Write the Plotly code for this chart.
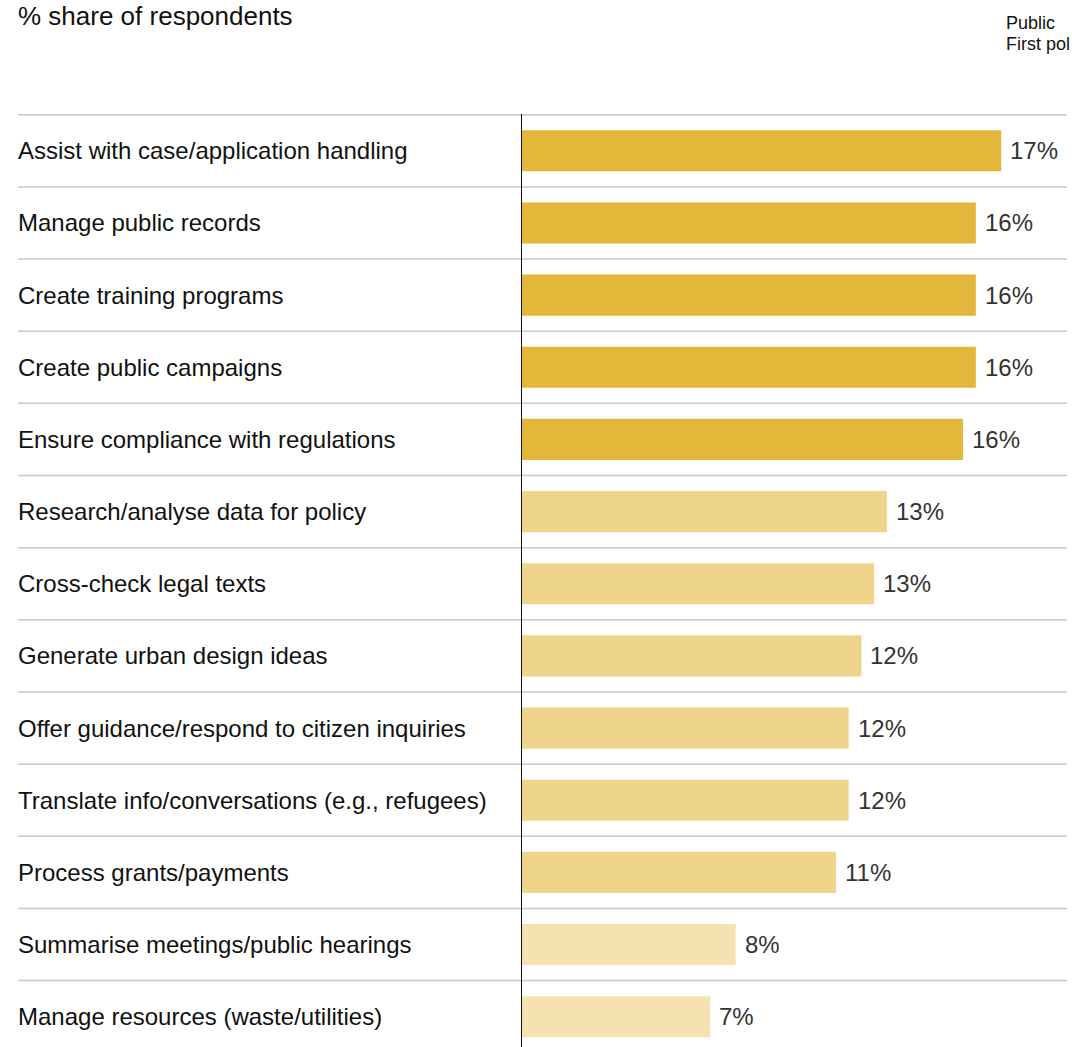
import plotly.graph_objects as go

categories = [
    "Assist with case/application handling",
    "Manage public records",
    "Create training programs",
    "Create public campaigns",
    "Ensure compliance with regulations",
    "Research/analyse data for policy",
    "Cross-check legal texts",
    "Generate urban design ideas",
    "Offer guidance/respond to citizen inquiries",
    "Translate info/conversations (e.g., refugees)",
    "Process grants/payments",
    "Summarise meetings/public hearings",
    "Manage resources (waste/utilities)",
]
values = [17.0, 16.1, 16.1, 16.1, 15.65, 12.95, 12.5, 12.05, 11.6, 11.6, 11.15, 7.6, 6.7]
labels = ["17%", "16%", "16%", "16%", "16%", "13%", "13%", "12%", "12%", "12%", "11%", "8%", "7%"]
tiers = [0, 0, 0, 0, 0, 1, 1, 1, 1, 1, 1, 2, 2]
tier_colors = ["#E3B73A", "#EFD48B", "#F4E2B0"]

W, H = 1072, 1047
FONT = "Liberation Sans, Arial, sans-serif"
L, T = 521, 114
PW, PH = W - L, H - T
ypos = list(range(len(categories)))


def px_x(xp):
    return (xp - L) / PW


def px_y(yp):
    return (H - yp) / PH


fig = go.Figure()
fig.add_trace(go.Bar(
    x=values, y=ypos, orientation="h",
    marker=dict(color=[tier_colors[t] for t in tiers], line=dict(width=0)),
    width=0.57, hoverinfo="skip",
))

# value labels
for yv, v, lab in zip(ypos, values, labels):
    fig.add_annotation(x=v, y=yv, xref="x", yref="y", text=lab, showarrow=False,
                       xanchor="left", yanchor="middle", xshift=7,
                       font=dict(family=FONT, size=24, color="#333333"))

# category labels
for yv, cat in zip(ypos, categories):
    fig.add_annotation(x=px_x(16), y=yv, xref="paper", yref="y", text=cat, showarrow=False,
                       xanchor="left", yanchor="middle",
                       font=dict(family=FONT, size=24, color="#111111"))

# row separators
for i in range(len(categories) + 1):
    fig.add_shape(type="line", xref="paper", yref="y", x0=px_x(18), x1=px_x(1067),
                  y0=i - 0.5, y1=i - 0.5, line=dict(color="#C8C8C8", width=1.5), layer="below")

# zero line
fig.add_shape(type="line", xref="x", yref="paper", x0=0, x1=0, y0=0, y1=1,
              line=dict(color="#111111", width=2))

# title & top-right note
fig.add_annotation(x=px_x(16), y=px_y(16), xref="paper", yref="paper", text="% share of respondents",
                   showarrow=False, xanchor="left", yanchor="middle",
                   font=dict(family=FONT, size=26, color="#111111"))
fig.add_annotation(x=px_x(1004), y=px_y(23), xref="paper", yref="paper", text="Public",
                   showarrow=False, xanchor="left", yanchor="middle",
                   font=dict(family=FONT, size=18, color="#111111"))
fig.add_annotation(x=px_x(1004), y=px_y(44), xref="paper", yref="paper", text="First pol",
                   showarrow=False, xanchor="left", yanchor="middle",
                   font=dict(family=FONT, size=18, color="#111111"))

fig.update_layout(
    width=W, height=H,
    margin=dict(l=L, r=0, t=T, b=0),
    paper_bgcolor="white", plot_bgcolor="white",
    showlegend=False,
    xaxis=dict(range=[0, PW / 28.25], visible=False, fixedrange=True),
    yaxis=dict(range=[12.42, -0.51], visible=False, fixedrange=True),
)
fig.write_html("out.html", config={"displayModeBar": False},
               post_script="document.body.style.margin='0px';document.body.style.overflow='hidden';")
